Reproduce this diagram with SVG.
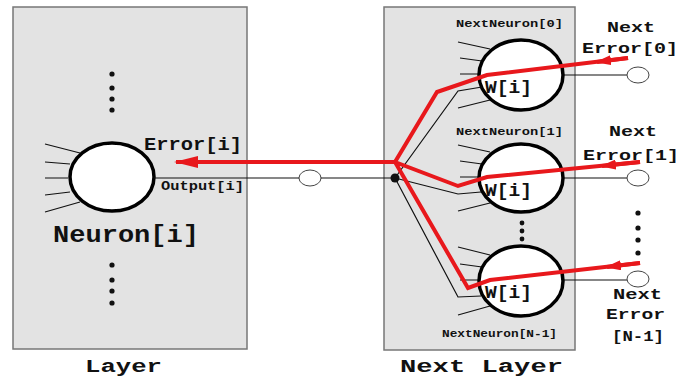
<svg xmlns="http://www.w3.org/2000/svg" width="682" height="381" viewBox="0 0 682 381">
<style>
.panel{fill:#e3e3e3;stroke:#777;stroke-width:1.5}
.neuron{fill:#fff;stroke:#000;stroke-width:3.5}
.small{fill:#fff;stroke:#444;stroke-width:1}
.wire{stroke:#111;stroke-width:1.2;fill:none}
.red{stroke:#e8181c;stroke-width:4;fill:none;stroke-linejoin:miter}
.dot{fill:#111}
text{font-family:"Liberation Mono","Courier New",monospace;font-weight:bold;fill:#111}
</style>
<defs>
<marker id="bigArrow" markerUnits="userSpaceOnUse" viewBox="0 0 24 12" refX="22" refY="6" markerWidth="24" markerHeight="12" orient="auto"><path d="M0,0 L24,6 L0,12 z" fill="#e8181c"/></marker>
<marker id="arrow" markerUnits="userSpaceOnUse" viewBox="0 0 16 10" refX="14" refY="5" markerWidth="16" markerHeight="10" orient="auto"><path d="M0,0 L16,5 L0,10 z" fill="#e8181c"/></marker>
</defs>

<g id="layer">
<rect class="panel" x="13" y="7" width="234" height="342"/>
<g class="dot"><circle cx="112" cy="74" r="2.6"/><circle cx="112" cy="88" r="2.6"/><circle cx="112" cy="99" r="2.6"/><circle cx="112" cy="110" r="2.6"/><circle cx="112" cy="265" r="2.6"/><circle cx="112" cy="280" r="2.6"/><circle cx="112" cy="291" r="2.6"/><circle cx="112" cy="303" r="2.6"/></g>
<text x="85" y="372" font-size="18" textLength="77" lengthAdjust="spacingAndGlyphs">Layer</text>
</g>

<g id="next-layer">
<rect class="panel" x="384" y="7" width="191" height="343"/>
<g class="dot"><circle cx="522" cy="223" r="2.4"/><circle cx="522" cy="231" r="2.4"/><circle cx="522" cy="239" r="2.4"/></g>
<text x="400" y="372" font-size="18.5" textLength="163" lengthAdjust="spacingAndGlyphs">Next Layer</text>
</g>

<g id="neuron-i">
<g class="wire"><path d="M45,144 L80,153 M45,162 L70,164 M45,178 L68,178 M45,195 L70,192 M45,212 L80,202"/></g>
<ellipse class="neuron" cx="112" cy="177" rx="42" ry="34"/>
<text x="144" y="150" font-size="18" textLength="98" lengthAdjust="spacingAndGlyphs">Error[i]</text>
<text x="161" y="190" font-size="13" textLength="83" lengthAdjust="spacingAndGlyphs">Output[i]</text>
<text x="53" y="242" font-size="23" textLength="146" lengthAdjust="spacingAndGlyphs">Neuron[i]</text>
</g>

<g id="next-neuron-0">
<g class="wire"><path d="M458,42 L490,49 M460,58 L482,61 M460,74 L480,74 M458,108 L490,100 M563,75 L627,75"/></g>
<ellipse class="neuron" cx="521" cy="75" rx="42" ry="35"/>
<ellipse class="small" cx="638" cy="75" rx="11" ry="8"/>
<text x="456" y="27" font-size="11" textLength="107" lengthAdjust="spacingAndGlyphs">NextNeuron[0]</text>
<text x="485" y="93" font-size="18" textLength="47" lengthAdjust="spacingAndGlyphs">W[i]</text>
<text x="607" y="32" font-size="15" textLength="48" lengthAdjust="spacingAndGlyphs">Next</text>
<text x="582" y="53" font-size="15" textLength="96" lengthAdjust="spacingAndGlyphs">Error[0]</text>
</g>

<g id="next-neuron-1">
<g class="wire"><path d="M458,145 L490,152 M460,161 L482,164 M460,177 L480,177 M458,211 L490,203 M563,178 L627,178"/></g>
<ellipse class="neuron" cx="521" cy="178" rx="42" ry="34"/>
<ellipse class="small" cx="638" cy="178" rx="11" ry="8"/>
<text x="456" y="135" font-size="11" textLength="107" lengthAdjust="spacingAndGlyphs">NextNeuron[1]</text>
<text x="485" y="196" font-size="18" textLength="47" lengthAdjust="spacingAndGlyphs">W[i]</text>
<text x="609" y="136" font-size="15" textLength="48" lengthAdjust="spacingAndGlyphs">Next</text>
<text x="583" y="160" font-size="15" textLength="96" lengthAdjust="spacingAndGlyphs">Error[1]</text>
</g>

<g id="next-neuron-n1">
<g class="wire"><path d="M458,247 L490,255 M460,264 L482,267 M460,280 L480,280 M458,315 L490,306 M563,280 L627,280"/></g>
<ellipse class="neuron" cx="521" cy="281" rx="42" ry="35"/>
<ellipse class="small" cx="638" cy="279" rx="11" ry="8"/>
<text x="442" y="337" font-size="11" textLength="115" lengthAdjust="spacingAndGlyphs">NextNeuron[N-1]</text>
<text x="485" y="298" font-size="18" textLength="47" lengthAdjust="spacingAndGlyphs">W[i]</text>
<g class="dot"><circle cx="638" cy="213" r="2.6"/><circle cx="638" cy="228" r="2.6"/><circle cx="638" cy="240" r="2.6"/><circle cx="638" cy="253" r="2.6"/></g>
<text x="613" y="299" font-size="15" textLength="49" lengthAdjust="spacingAndGlyphs">Next</text>
<text x="606" y="319" font-size="15" textLength="59" lengthAdjust="spacingAndGlyphs">Error</text>
<text x="612" y="341" font-size="15" textLength="52" lengthAdjust="spacingAndGlyphs">[N-1]</text>
</g>

<g id="output-node">
<ellipse class="small" cx="310" cy="178" rx="11" ry="8"/>
</g>

<g id="connectors">
<path class="wire" d="M154,178 L299,178 M321,178 L395,178"/>
<path class="wire" d="M395,178 L458,91 L482,87 M395,178 L458,194 L481,192 M395,178 L458,297 L481,296"/>
<circle class="dot" cx="395" cy="178" r="4.5"/>
<path class="red" d="M395,162 L176,162" marker-end="url(#bigArrow)"/>
<path class="red" d="M628,58 L487,75 L437,92 L395,162 L458,186 L487,177 L640,162 M395,162 L468,288 L490,280 L640,263"/>
<path class="red" d="M628,58 L597,62" marker-end="url(#arrow)"/>
<path class="red" d="M640,162 L602,166" marker-end="url(#arrow)"/>
<path class="red" d="M640,263 L607,267" marker-end="url(#arrow)"/>
</g>
</svg>
